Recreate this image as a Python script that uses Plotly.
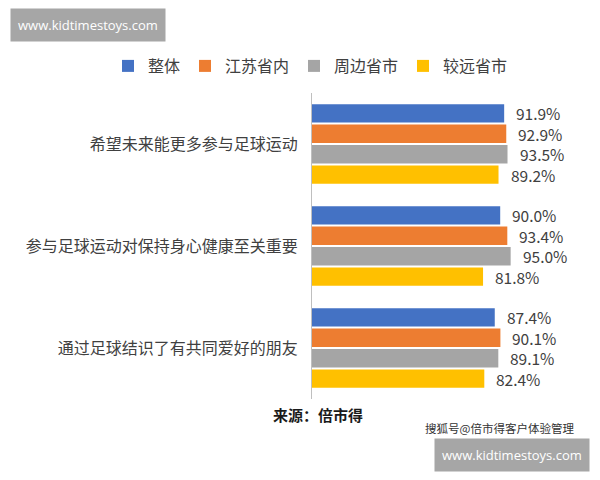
import plotly.graph_objects as go

categories = ["希望未来能更多参与足球运动", "参与足球运动对保持身心健康至关重要", "通过足球结识了有共同爱好的朋友"]
series_names = ["整体", "江苏省内", "周边省市", "较远省市"]
overall = [91.9, 90.0, 87.4]
jiangsu = [92.9, 93.4, 90.1]
nearby = [93.5, 95.0, 89.1]
faraway = [89.2, 81.8, 82.4]
colors = ["#4472C4", "#ED7D31", "#A5A5A5", "#FFC000"]

FONT = "Noto Sans CJK SC, Noto Sans, sans-serif"
values = [overall, jiangsu, nearby, faraway]
legend_ids = ["legend", "legend2", "legend3", "legend4"]

fig = go.Figure()
for name, vals, col, lid in zip(series_names, values, colors, legend_ids):
    fig.add_trace(go.Bar(
        y=categories, x=vals, name=name, orientation="h",
        marker=dict(color=col, line=dict(width=0)),
        hoverinfo="x+name", legend=lid,
    ))

# value labels placed beside bars
n = len(series_names)
bargap, groupgap = 0.2, 0.1
slot = (1 - bargap) / n
for si, vals in enumerate(values):
    for ci, v in enumerate(vals):
        off = -(1 - bargap) / 2 + slot * (si + 0.5)
        fig.add_annotation(
            x=v, y=ci + off, xref="x", yref="y",
            text=f"{v:.1f}%", showarrow=False, borderpad=0,
            xanchor="left", yanchor="middle", xshift=11,
            font=dict(family=FONT, size=15.5, color="#404040"),
        )

# one-row legend built from four single-entry legends laid side by side
LEG_FS = 16
item_w = [40 + LEG_FS * len(s) + 5 for s in series_names]
start = 310 - sum(item_w) / 2
layout_legends = {}
xpos = start
for lid, w in zip(legend_ids, item_w):
    layout_legends[lid] = dict(
        orientation="h", x=xpos / 600, xref="container",
        y=1 - 66 / 480, yref="container", xanchor="left", yanchor="middle",
        font=dict(family=FONT, size=LEG_FS, color="#404040"),
        itemwidth=30, borderwidth=0, bgcolor="rgba(0,0,0,0)",
    )
    xpos += w

fig.update_layout(
    width=600, height=480,
    barmode="group", bargap=bargap, bargroupgap=groupgap,
    paper_bgcolor="white", plot_bgcolor="white",
    margin=dict(l=312, r=40, t=93, b=81, autoexpand=False),
    font=dict(family=FONT, size=14, color="#404040"),
    showlegend=True,
    xaxis=dict(range=[0, 118.6], showgrid=False, zeroline=False,
               showticklabels=False, showline=False, fixedrange=True),
    yaxis=dict(autorange="reversed", showgrid=False, zeroline=False,
               showline=True, linecolor="#BFBFBF", linewidth=1,
               ticks="", ticklabelstandoff=10,
               tickfont=dict(family=FONT, size=16, color="#404040")),
    **layout_legends,
)

PW, PH, L, B = 248, 306, 312, 81
def px(x):
    return (x - L) / PW
def py(y):
    return (480 - y - B) / PH

# watermarks and source
fig.add_annotation(text="www.kidtimestoys.com", xref="paper", yref="paper",
                   x=px(10), y=py(25), showarrow=False,
                   xanchor="left", yanchor="middle",
                   bgcolor="#A6A6A6", borderpad=7,
                   font=dict(family="Open Sans, sans-serif", size=13, color="white"))
fig.add_annotation(text="www.kidtimestoys.com", xref="paper", yref="paper",
                   x=px(590), y=py(455), showarrow=False,
                   xanchor="right", yanchor="middle",
                   bgcolor="#A6A6A6", borderpad=7,
                   font=dict(family="Open Sans, sans-serif", size=13, color="white"))
fig.add_annotation(text="<b>来源：倍市得</b>", xref="paper", yref="paper",
                   x=px(318), y=py(414), showarrow=False,
                   xanchor="center", yanchor="middle",
                   font=dict(family=FONT, size=15, color="#1a1a1a"))
fig.add_annotation(text="搜狐号@倍市得客户体验管理", xref="paper", yref="paper",
                   x=px(499), y=py(428), showarrow=False,
                   xanchor="center", yanchor="middle",
                   font=dict(family=FONT, size=11.5, color="#333333"))

fig.write_html("out.html", config={"displayModeBar": False},
               post_script="document.body.style.margin='0';")
